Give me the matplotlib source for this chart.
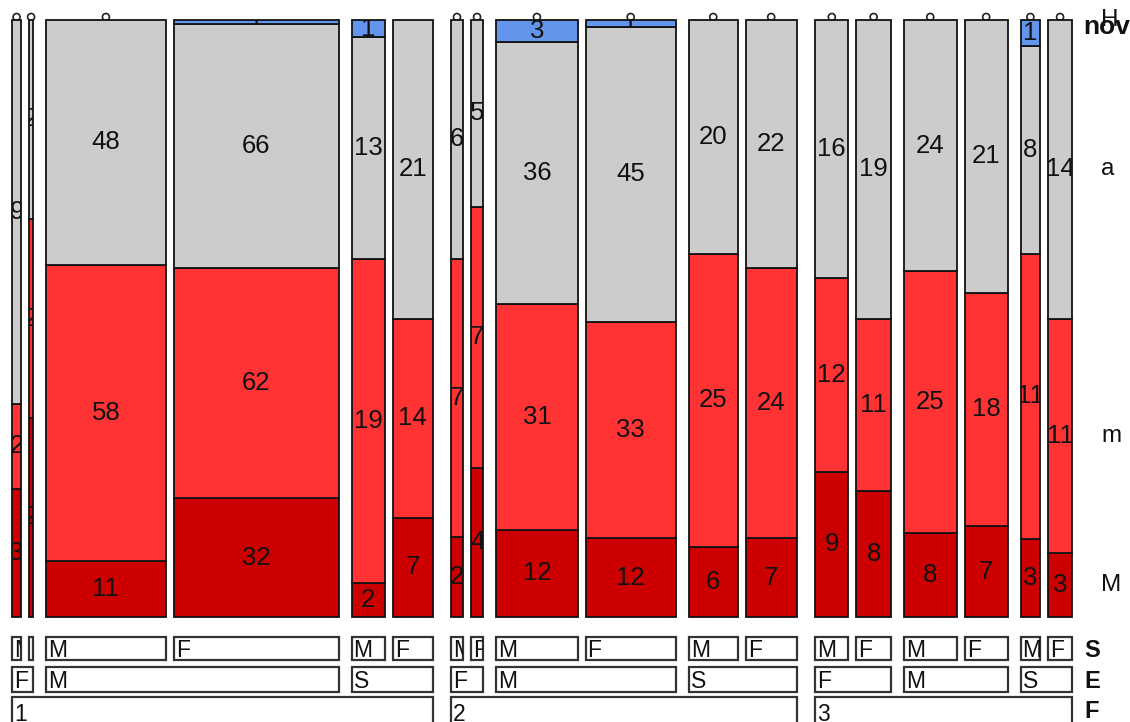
import matplotlib
matplotlib.use("Agg")
import matplotlib.pyplot as plt
from matplotlib.patches import Rectangle, Circle
from matplotlib.transforms import Bbox, TransformedBbox

plt.rcParams['font.family'] = ['Liberation Sans', 'DejaVu Sans']

# Factor levels
f_levels = ["1", "2", "3"]
e_levels = ["F", "M", "S"]
s_levels = ["M", "F"]
nov_levels = ["M", "m", "a", "H"]          # bottom to top
nov_colors = ["#CC0000", "#FF3333", "#CCCCCC", "#6495ED"]

# Counts: F -> E -> S -> [M, m, a, H]
counts_f1 = [[[3, 2, 9, 0], [2, 2, 2, 0]],
             [[11, 58, 48, 0], [32, 62, 66, 1]],
             [[2, 19, 13, 1], [7, 14, 21, 0]]]
counts_f2 = [[[2, 7, 6, 0], [4, 7, 5, 0]],
             [[12, 31, 36, 3], [12, 33, 45, 1]],
             [[6, 25, 20, 0], [7, 24, 22, 0]]]
counts_f3 = [[[9, 12, 16, 0], [8, 11, 19, 0]],
             [[8, 25, 24, 0], [7, 18, 21, 0]],
             [[3, 11, 8, 1], [3, 11, 14, 0]]]
counts = [counts_f1, counts_f2, counts_f3]

# Empty-cell markers on top of the columns
empty_marks = [[[1, 1], [1, 0], [0, 0]],
               [[1, 1], [1, 1], [1, 1]],
               [[1, 1], [1, 1], [1, 1]]]

# Layout in pixel units
X0, X1 = 12, 1072
Y_TOP, Y_BOT = 20, 617
GAP_F, GAP_E, GAP_S = 18.5, 13, 8
ROW_S = (637, 660)
ROW_E = (667, 692)
ROW_F = (697, 728)

fig = plt.figure(figsize=(11.3, 7.22), dpi=100)
ax = fig.add_axes([0, 0, 1, 1])
ax.set_xlim(0, 1130)
ax.set_ylim(722, 0)
ax.axis("off")

def total(x):
    if isinstance(x, list):
        return sum(total(v) for v in x)
    return x

def split(x_start, width, parts, gap):
    tot = sum(parts)
    avail = width - gap * (len(parts) - 1)
    out = []
    x = x_start
    for p in parts:
        w = avail * p / tot
        out.append((x, w))
        x += w + gap
    return out

def clip_to(t, x, y, w, h):
    box = Bbox.from_extents(x, y, x + w, y + h)
    t.set_clip_box(TransformedBbox(box, ax.transData))
    t.set_clip_on(True)

def label_box(x, w, row, text):
    y0, y1 = row
    ax.add_patch(Rectangle((x, y0), w, y1 - y0, facecolor="white",
                           edgecolor="#333333", lw=1.6, zorder=3))
    t = ax.text(x + 2, (y0 + y1) / 2 + 2, text, ha="left", va="center",
                fontsize=16.5, color="#111111", zorder=4)
    clip_to(t, x, y0, w, y1 - y0)

H = Y_BOT - Y_TOP
last_col = None
f_parts = split(X0, X1 - X0, [total(c) for c in counts], GAP_F)
for fi, (fx, fw) in enumerate(f_parts):
    label_box(fx, fw, ROW_F, f_levels[fi])
    e_parts = split(fx, fw, [total(c) for c in counts[fi]], GAP_E)
    for ei, (ex, ew) in enumerate(e_parts):
        label_box(ex, ew, ROW_E, e_levels[ei])
        s_parts = split(ex, ew, [total(c) for c in counts[fi][ei]], GAP_S)
        for si, (sx, sw) in enumerate(s_parts):
            label_box(sx, sw, ROW_S, s_levels[si])
            cell = counts[fi][ei][si]
            n = sum(cell)
            if empty_marks[fi][ei][si]:
                ax.add_patch(Circle((sx + sw / 2, Y_TOP - 3), 3.5,
                                    facecolor="white", edgecolor="#222222",
                                    lw=1.2, zorder=1))
            y = Y_BOT
            centers = []
            for k, v in enumerate(cell):
                h = H * v / n
                centers.append(y - h / 2)
                if v > 0:
                    rect = Rectangle((sx, y - h), sw, h, facecolor=nov_colors[k],
                                     edgecolor="#111111", lw=1.3, zorder=2)
                    ax.add_patch(rect)
                    t = ax.text(sx + sw / 2, y - h / 2, str(v), ha="center",
                                va="center", fontsize=18.5, color="#111111",
                                zorder=3)
                    clip_to(t, sx, y - h, sw, h)
                y -= h
            last_col = centers

# Level labels of the response on the right
for k, lev in enumerate(nov_levels):
    ax.text(1101, last_col[k], lev, ha="left", va="center", fontsize=17.5,
            color="#111111")
ax.text(1083, 34, "nov", ha="left", va="baseline", fontsize=19,
        fontweight="bold", color="#111111")

# Variable names of the explanatory factors
for row, name in [(ROW_S, "S"), (ROW_E, "E"), (ROW_F, "F")]:
    ax.text(1084, (row[0] + min(row[1], 722)) / 2 + 2, name, ha="left",
            va="center", fontsize=17, fontweight="bold", color="#111111")

fig.savefig("out.png", dpi=100)
